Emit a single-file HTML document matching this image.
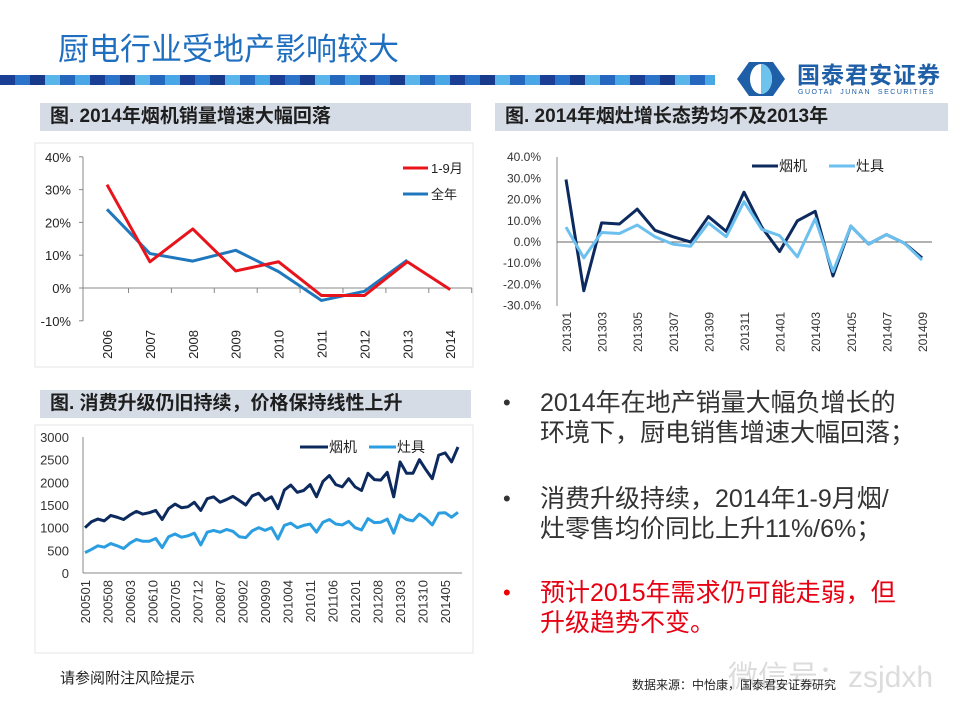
<!DOCTYPE html>
<html><head><meta charset="utf-8">
<style>
body{margin:0;width:960px;height:720px;background:#fff;position:relative;overflow:hidden;font-family:"Liberation Sans","Noto Sans CJK SC",sans-serif;}
.abs{position:absolute;}
.hdr{position:absolute;height:28px;background:#d6dce6;font-weight:bold;font-size:19px;color:#1e1e1e;line-height:28px;padding-left:10px;box-sizing:border-box;}
.bul{position:absolute;left:540px;font-size:25px;line-height:30px;color:#333;white-space:nowrap;}
.dot{position:absolute;left:503px;font-size:22px;line-height:30px;color:#333;}
</style></head><body>
<div class="abs" style="left:58px;top:24px;font-size:31px;color:#1f6fc0;">厨电行业受地产影响较大</div>
<div class="abs" style="left:0;top:75px;width:715px;height:10px;background:repeating-linear-gradient(90deg,#1b3f95 0 15px,#2c74c9 15px 30px,#173a8a 30px 45px,#5ab5ea 45px 60px,#2467bd 60px 75px,#48a7e4 75px 90px);"></div>
<svg class="abs" style="left:737px;top:62px" width="48" height="34" viewBox="0 0 48 34">
<path d="M12 0 H36 L48 17 L36 34 H12 L0 17 Z" fill="#1f5fa8"/>
<ellipse cx="24" cy="17" rx="11" ry="15" fill="#fff"/>
<path d="M24 2 A11 15 0 0 1 24 32 Z" fill="#6ec3ee"/>
</svg>
<div class="abs" style="left:797px;top:63px;font-size:23px;line-height:24px;font-weight:bold;color:#1f5fa8;letter-spacing:1px;">国泰君安证券</div>
<div class="abs" style="left:798px;top:89px;font-size:7px;line-height:8px;color:#1f5fa8;letter-spacing:1.5px;">GUOTAI&nbsp; JUNAN&nbsp; SECURITIES</div>

<div class="hdr" style="left:40px;top:103px;width:431px;">图. 2014年烟机销量增速大幅回落</div>
<div class="hdr" style="left:495px;top:103px;width:453px;">图. 2014年烟灶增长态势均不及2013年</div>
<div class="hdr" style="left:40px;top:390px;width:431px;">图. 消费升级仍旧持续，价格保持线性上升</div>

<svg id="c1" class="abs" style="left:0;top:0" width="960" height="720"></svg>

<div class="dot" style="top:388px">•</div>
<div class="bul" style="top:388px">2014年在地产销量大幅负增长的<br>环境下，厨电销售增速大幅回落；</div>
<div class="dot" style="top:484px">•</div>
<div class="bul" style="top:484px">消费升级持续，2014年1-9月烟/<br>灶零售均价同比上升11%/6%；</div>
<div class="dot" style="top:578px;color:#e00">•</div>
<div class="bul" style="top:578px;color:#e60012">预计2015年需求仍可能走弱，但<br>升级趋势不变。</div>

<div class="abs" style="left:728px;top:652px;font-size:30px;color:#dcdcdc;">微信号：zsjdxh</div>
<div class="abs" style="left:60px;top:667px;font-size:15px;color:#222;">请参阅附注风险提示</div>
<div class="abs" style="left:632px;top:676px;font-size:12px;color:#222;">数据来源：中怡康，国泰君安证券研究</div>

<script>
// Chart 1 data
const c1Years=['2006','2007','2008','2009','2010','2011','2012','2013','2014'];
const c1Jan2Sep=[31.5,8,18,5.2,8,-2.3,-2.3,8,-0.5];
const c1Full=[24,10.5,8.2,11.5,5,-3.8,-1,8.5];
const c1Ticks=[40,30,20,10,0,-10];
// Chart 2 data
const c2Months=['201301','201302','201303','201304','201305','201306','201307','201308','201309','201310','201311','201312','201401','201402','201403','201404','201405','201406','201407','201408','201409'];
const c2Hood=[29.5,-23,9,8.5,15.5,5.5,2.5,0,12,5,23.5,7,-4.5,10,14.5,-16,7.5,-1,3.5,-0.5,-7.5];
const c2Stove=[7,-7.5,4.5,4,8,2.5,-1,-2,9,2.5,19,6,3,-7,11,-14,7.5,-1,3.5,-0.5,-8.5];
const c2Ticks=[40,30,20,10,0,-10,-20,-30];
// Chart 3 data (bi-monthly from 200501 to 201409)
const c3Hood=[1000,1130,1190,1150,1270,1230, 1180,1280,1360,1300,1330,1380, 1180,1420,1520,1440,1460,1560, 1380,1640,1680,1560,1620,1690, 1600,1500,1700,1760,1600,1680, 1420,1830,1940,1780,1820,1950, 1680,2020,2150,1950,1900,2080, 1900,1820,2200,2060,2050,2220, 1680,2450,2200,2200,2500,2280, 2080,2600,2650,2450,2780];
const c3Stove=[450,520,600,570,650,600, 540,660,740,700,700,760, 560,800,860,790,820,880, 620,900,940,900,960,920, 800,780,930,1000,940,1000, 750,1050,1100,1000,1050,1080, 900,1120,1180,1080,1060,1140, 1000,950,1200,1110,1120,1190, 880,1280,1180,1150,1300,1200, 1060,1320,1330,1230,1340];
const c3Labels=['200501','200508','200603','200610','200705','200712','200807','200902','200909','201004','201011','201106','201201','201208','201303','201310','201405'];
const c3Ticks=[3000,2500,2000,1500,1000,500,0];

const svg=document.getElementById('c1');
const NS='http://www.w3.org/2000/svg';
function mk(tag,attrs,parent){const e=document.createElementNS(NS,tag);for(const k in attrs)e.setAttribute(k,attrs[k]);(parent||svg).appendChild(e);return e;}
function txt(x,y,s,attrs){const t=mk('text',Object.assign({x:x,y:y,'font-family':'Liberation Sans, Noto Sans CJK SC, sans-serif'},attrs));t.textContent=s;return t;}
function poly(pts,color,w){return mk('polyline',{points:pts.map(p=>p.join(',')).join(' '),fill:'none',stroke:color,'stroke-width':w,'stroke-linejoin':'round'});}

// ---------- Chart 1 ----------
mk('rect',{x:35,y:143,width:438,height:224,fill:'none',stroke:'#e4e4e4'});
const y1=v=>288-v*3.28, x1=i=>107+i*42.9;
const ax1=mk('line',{x1:83,y1:157,x2:83,y2:321,stroke:'#888'});

c1Ticks.forEach(t=>{mk('line',{x1:79,x2:83,y1:y1(t),y2:y1(t),stroke:'#888'});
 const e=txt(71,y1(t)+5,t+'%',{'font-size':13,'text-anchor':'end',fill:'#222'});
 });
mk('line',{x1:83,y1:y1(0),x2:472,y2:y1(0),stroke:'#888'});
c1Years.forEach((yr,i)=>{mk('line',{x1:x1(i)+21.5,x2:x1(i)+21.5,y1:y1(0),y2:y1(0)+5,stroke:'#888'});
 const e=txt(0,0,yr,{'font-size':13,fill:'#222','text-anchor':'end',transform:`translate(${x1(i)+5},330) rotate(-90)`});
 });
let l=poly(c1Full.map((v,i)=>[x1(i),y1(v)]),'#1f77be',3);

l=poly(c1Jan2Sep.map((v,i)=>[x1(i),y1(v)]),'#e8141c',3);

mk('line',{x1:403,x2:428,y1:168,y2:168,stroke:'#e8141c','stroke-width':3});
l=txt(431,173,'1-9月',{'font-size':13,fill:'#222'});
mk('line',{x1:403,x2:428,y1:194,y2:194,stroke:'#1f77be','stroke-width':3});
l=txt(431,199,'全年',{'font-size':13,fill:'#222'});

// ---------- Chart 2 ----------
const y2=v=>242-v*2.12, x2=i=>566+i*17.8;
l=mk('line',{x1:557,y1:157,x2:557,y2:306,stroke:'#888'});

c2Ticks.forEach(t=>{const e=txt(541,y2(t)+4,t.toFixed(1)+'%',{'font-size':12,'text-anchor':'end',fill:'#333'});
 });
mk('line',{x1:557,y1:y2(0),x2:932,y2:y2(0),stroke:'#666'});
c2Months.forEach((m,i)=>{if(i%2)return;
 const e=txt(0,0,m,{'font-size':12,fill:'#333','text-anchor':'end',transform:`translate(${x2(i)+5},312) rotate(-90)`});
 });
l=poly(c2Hood.map((v,i)=>[x2(i),y2(v)]),'#0d2a5e',3);

l=poly(c2Stove.map((v,i)=>[x2(i),y2(v)]),'#6cc0ef',3);

mk('line',{x1:752,x2:778,y1:166,y2:166,stroke:'#0d2a5e','stroke-width':3});
l=txt(779,171,'烟机',{'font-size':14,fill:'#222'});
mk('line',{x1:829,x2:855,y1:166,y2:166,stroke:'#6cc0ef','stroke-width':3});
l=txt(856,171,'灶具',{'font-size':14,fill:'#222'});

// ---------- Chart 3 ----------
mk('rect',{x:35,y:425,width:438,height:228,fill:'none',stroke:'#e4e4e4'});
const y3=v=>573-v*0.04533, x3=m=>85+m*(373/116);
l=mk('line',{x1:83,y1:437,x2:83,y2:573,stroke:'#888'});

c3Ticks.forEach(t=>{const e=txt(69,y3(t)+5,String(t),{'font-size':13,'text-anchor':'end',fill:'#333'});
 });
mk('line',{x1:83,y1:573,x2:462,y2:573,stroke:'#888'});
c3Labels.forEach((m,i)=>{const e=txt(0,0,m,{'font-size':13,fill:'#333','text-anchor':'end',transform:`translate(${x3(i*7)+5},580) rotate(-90)`});
 });
l=poly(c3Hood.map((v,i)=>[x3(i*2),y3(v)]),'#0d2a5e',3);

l=poly(c3Stove.map((v,i)=>[x3(i*2),y3(v)]),'#2a9ee0',3);

mk('line',{x1:300,x2:328,y1:447,y2:447,stroke:'#0d2a5e','stroke-width':3});
l=txt(329,452,'烟机',{'font-size':14,fill:'#222'});
mk('line',{x1:369,x2:396,y1:447,y2:447,stroke:'#2a9ee0','stroke-width':3});
l=txt(397,452,'灶具',{'font-size':14,fill:'#222'});
</script>
</body></html>
